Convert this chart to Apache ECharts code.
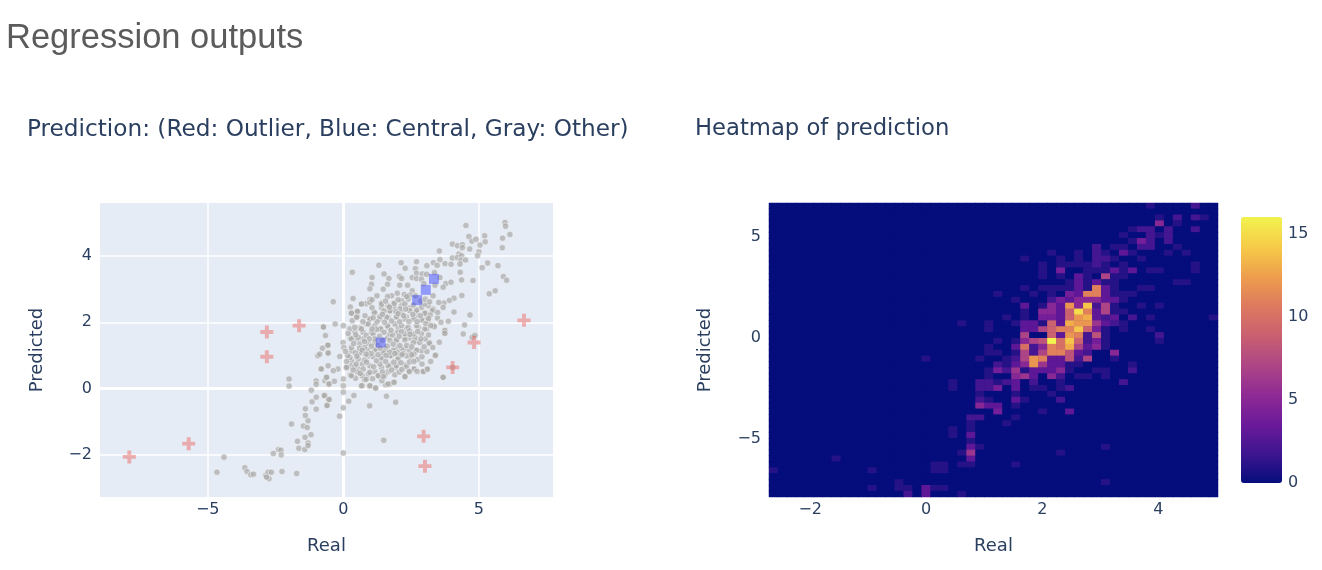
<!DOCTYPE html>
<html><head><meta charset="utf-8">
<style>html,body{margin:0;padding:0;background:#fff}#c{width:1322px;height:570px}</style>
<script src="https://cdn.jsdelivr.net/npm/echarts@6/dist/echarts.min.js"></script>
</head><body><div id="c"></div>
<script>
const outlierPoints = [[-7.89,-2.06],[-5.70,-1.66],[-2.82,0.96],[-2.82,1.71],[-1.63,1.90],[4.03,0.64],[2.96,-1.44],[3.01,-2.34],[6.66,2.06],[4.82,1.39]];
const centralPoints = [[3.34,3.31],[3.04,2.98],[2.72,2.67],[1.38,1.39]];
const otherPoints = [
[4.52,4.92],[5.96,5.01],[5.98,4.90],[6.14,4.65],[5.87,4.54],[5.21,4.61],[4.63,4.59],[4.74,4.45],[4.89,4.51],[5.23,4.43],[5.04,4.33],[4.02,4.36],[4.21,4.31],[4.39,4.34],[4.39,4.25],[4.66,4.21],[5.86,4.25],[3.54,4.15],[5.00,4.13],[4.95,4.01],[4.26,4.06],[4.02,3.94],[4.20,3.95],[4.36,4.01],[4.34,3.88],[4.51,3.88],[3.56,3.89],[2.70,3.83],[3.75,3.77],[3.97,3.75],[4.30,3.76],[3.32,3.80],[3.46,3.72],[3.08,3.71],[1.31,3.72],[2.13,3.80],[2.28,3.63],[5.12,3.65],[5.32,3.79],[5.70,3.71],[0.33,3.51],[1.50,3.46],[2.66,3.62],[2.70,3.48],[2.91,3.46],[3.07,3.45],[3.36,3.50],[4.31,3.51],[1.06,3.35],[1.68,3.32],[2.07,3.38],[2.54,3.35],[2.70,3.32],[2.88,3.30],[3.56,3.35],[4.36,3.28],[4.78,3.26],[5.90,3.38],[6.02,3.27],[2.15,3.32],[1.04,3.15],[1.63,3.15],[2.08,3.12],[2.37,3.12],[2.97,3.17],[3.38,3.12],[3.78,3.17],[3.97,3.21],[0.98,3.01],[1.47,3.00],[2.54,2.95],[3.68,3.06],[1.99,2.88],[2.25,2.84],[1.78,2.80],[1.63,2.78],[3.31,2.80],[2.45,2.82],[1.24,2.80],[0.98,2.69],[0.36,2.72],[-0.37,2.62],[5.38,2.86],[5.60,2.95],[4.37,2.81],[4.08,2.73],[3.91,2.66],[3.71,2.58],[3.68,2.45],[0.67,2.56],[0.83,2.56],[1.41,2.58],[1.86,2.58],[2.15,2.65],[2.39,2.70],[1.65,2.50],[0.26,2.46],[2.15,2.50],[3.13,2.50],[0.30,2.30],[0.51,2.33],[1.41,2.45],[1.86,2.45],[2.88,2.45],[3.31,2.40],[2.45,2.43],[4.08,2.31],[1.72,2.33],[2.15,2.30],[1.16,2.30],[2.70,2.30],[3.04,2.28],[4.67,2.22],[0.51,2.18],
[4.47,1.92],[4.42,1.65],[3.75,1.75],[3.75,1.67],[4.75,1.55],[4.85,1.60],[3.87,2.03],[3.35,1.90],[3.17,1.39],[3.07,1.80],[2.70,1.44],[2.43,1.53],[1.96,1.46],[-0.74,1.86],[-0.30,1.95],[0,1.90],[-0.56,1.31],[-0.01,1.39],[0.26,1.52],[0.42,1.72],[0.61,1.83],[0.33,2.05],[0.86,1.95],[0.98,2.10],[1.35,2.10],[1.65,2.15],[1.96,2.15],[2.33,2.15],[2.64,2.15],[2.95,2.08],[3.31,1.90],[0.73,1.70],[1.04,1.70],[1.35,1.80],[1.65,1.85],[2.02,1.85],[2.33,1.80],[2.76,1.85],[0.49,1.50],[0.73,1.50],[1.16,1.39],[1.65,1.54],[2.27,1.54],[2.64,1.54],
[-2.0,0.29],[-2.0,0.08],[-4.40,-2.07],[-4.66,-2.52],[-3.63,-2.39],[-3.55,-2.50],[-3.41,-2.60],[-3.31,-2.58],[-2.86,-2.62],[-2.77,-2.52],[-2.65,-2.52],[-2.74,-2.72],[-2.83,-2.67],[-2.26,-2.50],[-1.72,-2.56],[-2.58,-1.96],[-2.39,-1.84],[-2.30,-1.86],[-2.29,-2.0],[-1.64,-1.80],[-1.42,-1.84],[-1.69,-1.59],[-1.30,-1.64],[-1.30,-1.72],[-1.41,-1.47],[-1.19,-1.39],[-1.47,-1.13],[-1.33,-1.17],[-1.91,-1.07],[-1.30,-0.97],[-1.40,-0.81],[-1.40,-0.61],[-1.0,-0.62],[-1.15,-0.40],[-1.0,-0.26],[-1.18,-0.05],[-0.69,-0.21],[-0.60,-0.51],[-0.55,-0.33],[-1.0,0.23],[-1.0,0.13],[-0.68,0.24],[-0.61,0.34],[-0.55,0.14],[-0.83,0.60],[-0.56,0.69],[-0.94,0.99],[-0.87,1.04],[-0.56,1.09],[-0.77,1.22],[-0.73,1.86],[-0.66,1.60],[-0.57,1.31],
[4.03,0.64],[3.38,0.99],[3.68,0.34],[3.09,0.57],[2.95,0.51],[2.61,0.59],[2.43,0.51],[2.28,0.37],[1.92,0.64],[1.86,0.19],[1.72,0.14],[1.56,0.12],[1.42,0.24],[1.19,0],[0.97,0.07],[0.70,0.09],[0.78,0.27],[0.45,0.31],[1.59,-0.23],[1.93,-0.41],[0.97,-0.52],[0.39,-0.21],[0.20,-0.38],[0,-0.58],[-0.14,-0.83],[1.49,-1.56],[0,-1.94],[0,-0.11],[0,0.09],[0,0.29],[-0.52,0.14],[-0.33,0.22],[-0.70,-0.21],[-0.52,-0.33],[-0.60,-0.51],[-0.62,0.34],[-0.20,0.59],[-0.37,0.54],[-0.13,0.97],[-0.81,0.59],[-0.56,1.07],[0.30,0.84],[0.30,0.69],[0.12,0.64],[0.26,0.41],[0.55,0.59],[0.71,0.74],[0.92,0.44],[1.16,0.51],[1.29,0.39],[1.41,0.64],[1.65,0.51],[1.72,0.71],[2.02,0.87],[2.27,0.71],[2.48,0.94],[2.70,1.14],[2.88,1.14],[2.27,1.20],[1.78,1.00],[1.41,0.94],[0.92,0.99],[0.61,1.09],[0.30,1.14],[0.02,1.24],[1.16,1.14],[1.53,1.20],[1.96,1.20],
[0.67,2.55],[0.98,2.60],[1.41,2.55],[1.88,2.57],[2.27,2.55],[3.0,2.55],[0.30,2.27],[0.52,2.33],[1.14,2.30],[1.35,2.17],[1.72,2.35],[2.08,2.40],[2.45,2.35],[2.70,2.37],[3.0,2.27],[3.28,2.35],[0.49,2.15],[0.98,2.10],[1.59,2.15],[1.96,2.17],[2.27,2.10],[2.58,2.10],[2.88,2.07],[3.13,2.05],[3.47,2.13],[0.24,1.80],[0.42,1.85],[0.67,1.80],[0.92,1.95],[1.16,1.90],[1.38,1.80],[1.63,1.90],[1.90,1.95],[2.15,1.90],[2.39,1.85],[2.70,1.90],[3.0,1.80],[3.35,1.87],[3.74,1.75],[3.74,1.67],[0.30,1.50],[0.55,1.55],[0.85,1.60],[1.10,1.65],[1.72,1.65],[2.0,1.70],[2.27,1.65],[2.58,1.65],[2.88,1.65],[0.30,1.24],[0.61,1.35],[0.92,1.35],[1.16,1.50],[1.72,1.45],[1.96,1.47],[2.27,1.47],[2.58,1.39],[2.82,1.39],[3.17,1.37],[0.61,1.09],[0.89,1.16],[1.19,1.19],[1.53,1.14],[1.84,1.16],[2.15,1.19],[2.45,1.14],[2.70,1.16],[3.40,1.01],[0.24,0.94],[0.55,0.89],[0.79,0.86],[1.10,0.96],[1.41,0.92],[1.72,0.99],[2.02,0.92],[2.33,0.99],[0.12,0.64],[0.42,0.66],[0.73,0.59],[0.98,0.69],[1.35,0.74],[1.65,0.69],[1.96,0.69],[2.33,0.66],[2.61,0.59],[2.95,0.52],[3.10,0.59],[3.68,0.34],[0.30,0.39],[0.70,0.39],[0.98,0.49],[1.29,0.39],[1.53,0.42],[1.90,0.42],[2.43,0.52],[2.27,0.36],[0.67,0.09],[0.98,0.09],[1.19,0.02],[1.65,0.14],[1.87,0.19],
[0.44,1.08],[0.78,1.24],[1.02,1.06],[1.28,1.30],[1.46,1.08],[1.62,1.28],[1.84,1.34],[2.08,1.30],[2.34,1.30],[2.52,1.26],[0.48,0.74],[0.86,0.80],[1.22,0.84],[1.56,0.82],[1.86,0.80],[2.12,0.78],[2.44,0.80],[2.74,0.88],[0.60,1.22],[0.96,1.50],[1.34,1.58],[1.50,1.70],[1.82,1.62],[2.14,1.72],[2.44,1.74],[2.74,1.72],[3.02,1.50],[1.22,1.78],[1.52,2.00],[1.78,2.04],[2.08,2.02],[2.42,2.02],[2.72,2.02],[3.04,1.96],[1.24,2.02],[0.80,2.20],[1.06,2.44],[1.50,2.34],[1.94,2.32],[2.30,2.40],[2.58,2.52],[2.86,2.64],[3.20,2.22],[0.16,1.00],[0.12,0.82],[0.52,0.50],[0.84,0.28],[1.08,0.30],[1.44,0.50],[2.06,0.50],[2.60,0.82],[2.90,0.74],
[0.38,1.36],[0.70,1.16],[1.04,1.28],[1.36,1.22],[1.70,1.10],[2.00,1.08],[2.20,1.06],[2.60,1.04],[2.90,0.96],[3.08,1.12],[0.50,0.98],[0.84,1.04],[1.28,1.02],[1.58,1.00],[1.90,1.06],[2.16,1.02],[2.52,1.02],[0.36,0.56],[0.62,0.46],[1.12,0.66],[1.48,0.36],[1.78,0.56],[2.16,0.58],[0.46,1.62],[0.78,1.42],[1.06,1.80],[1.44,1.46],[1.76,1.76],[2.06,1.58],[2.46,1.64],[2.86,1.50],[3.14,1.62],[3.22,1.90],[0.72,2.02],[1.10,2.14],[1.44,2.24],[1.70,2.46],[2.02,2.26],[2.22,2.20],[2.56,2.24],[2.84,2.20],[3.14,2.12],[0.18,1.66],[0.08,1.12],[1.06,2.68],[1.56,2.64],[2.02,2.68],[2.34,2.78],[2.66,2.80],[3.02,2.70],[3.18,2.62],[3.52,2.60],[3.48,2.30],[3.60,2.00],[3.54,1.40],[3.30,1.24],[2.98,1.26],[3.22,0.82],[2.72,0.52]
];
const heatRows = [
[42,1,47,2],[],[43,1,45,2,47,2,48,1],[43,5,45,1],[40,1,41,2,42,2,44,2,47,2],
[39,1,42,2,43,1,44,2],[40,1,41,4,42,2,44,2],[36,2,38,1,39,1,41,2,42,2,45,1],[31,1,34,1,36,2,37,1,39,3,40,1,44,1,46,1],[28,1,32,1,34,1,36,2,37,2,38,1,41,1],
[30,1,32,1,33,1,34,1,35,1,36,2,37,1,39,1,47,1],[30,1,32,4,35,1,36,1,37,1,38,3,39,1,40,3,42,1,43,1,47,1],[30,1,32,1,34,3,35,1,37,7,38,1,39,1],[33,1,34,3,35,1,36,3,37,1,38,1,45,1,46,1],[28,1,30,1,31,1,32,1,33,1,34,3,35,1,36,11,37,3,38,1,41,1,42,1],
[25,1,29,1,31,1,33,4,34,3,35,11,36,11,37,3,38,1,39,1,40,1],[27,1,31,2,32,4,33,3,34,5,35,5,36,5,37,3,38,3,39,1],[28,3,30,1,31,5,32,3,33,12,34,5,35,14,36,2,37,7,38,1,41,1,43,1],[28,1,30,5,31,5,32,3,33,9,34,15,35,11,36,3,37,7,38,1,39,1],[26,1,28,1,30,4,31,4,32,3,33,9,34,12,35,13,36,3,37,2,38,3,40,2,42,1,49,1],
[21,1,24,1,27,1,28,3,29,3,30,1,31,9,32,3,33,13,34,12,35,12,36,6,37,3,38,2,39,1],[24,1,28,3,29,3,30,7,31,9,32,11,33,11,34,14,35,9,36,4,37,1,39,1,42,1],[28,7,31,9,32,3,33,12,34,11,35,2,36,8,37,1,43,2],[25,1,27,1,28,5,29,7,30,8,31,16,32,10,33,14,34,9,35,2,36,4,37,1,43,1],[24,1,27,3,28,10,29,2,30,5,31,11,32,10,33,13,34,7,35,3,36,5,37,1],
[24,1,25,1,27,1,28,7,29,2,30,7,31,11,32,11,33,8,34,3,35,2,38,5],[17,1,23,1,26,1,27,2,28,7,29,12,30,11,31,3,32,3,33,8,34,2,35,7,38,1],[25,2,26,1,27,3,28,5,29,12,30,6,31,3,32,3,33,1,34,1,40,1],[24,1,25,4,26,2,27,6,28,1,29,3,30,3,31,3,32,5,33,1,36,1,37,1,40,2],[24,1,27,5,28,6,29,3,31,5,32,2,34,1,35,1,37,1],
[20,1,23,2,24,2,25,1,26,2,27,3,29,2,32,1,39,2],[20,1,23,2,24,2,25,4,27,3,29,1,30,1,32,1,33,2],[23,1,27,1,31,1],[23,2,24,1,27,3,28,1,32,2],[23,5,24,3,25,3,27,1],
[25,4,30,1,33,3],[22,2,23,2,27,1],[22,1,26,1],[20,1,22,1],[20,1,22,3],
[22,1],[22,3,23,1,37,1],[21,1,22,6,32,1],[7,1,22,3],[18,1,19,1,21,1,22,1,27,1],
[0,1,11,1,18,1,19,1],[],[14,1,37,1],[11,1,14,1,15,1,17,3,18,1,19,1],[15,2,17,3,21,1]
];
const binCount = 50;
const leftXTicks = [-5,0,5];
const leftYTicks = [-2,0,2,4];
const rightXTicks = [-2,0,2,4];
const rightYTicks = [-5,0,5];
const colorbarTicks = [0,5,10,15];
const plasma = ['#050d7c','#3e1590','#6c1a9a','#8f2b94','#ae4685','#c96070','#dd7a5e','#ee9f4c','#f6cc48','#f1f34e'];

const ink = '#2a3f5f', sans = '"DejaVu Sans"';
const fmt = v => String(v).replace('-', '\u2212');
const labels = (vals, margin) => ({color: ink, fontFamily: sans, fontSize: 16, customValues: vals, formatter: fmt, margin});
const nameStyle = {color: ink, fontFamily: sans, fontSize: 18};

const bins = Array.from({length: binCount}, (_, i) => String(i));
const heatData = [];
const lookup = {};
heatRows.forEach((row, r) => { for (let i = 0; i < row.length; i += 2) lookup[row[i] + '_' + r] = row[i + 1]; });
for (let r = 0; r < binCount; r++) for (let c = 0; c < binCount; c++) heatData.push([c, r, lookup[c + '_' + r] || 0]);

const whiteLine = {lineStyle: {color: '#fff', width: 1.5}};
const chart = echarts.init(document.getElementById('c'), null, {renderer: 'canvas'});
chart.setOption({
  animation: false,
  backgroundColor: '#fff',
  title: [
    {text: 'Regression outputs', left: 6, top: 21, padding: 0, textStyle: {fontFamily: '"Liberation Sans"', fontSize: 34.5, fontWeight: 'normal', color: '#5b5b5b'}},
    {text: 'Prediction: (Red: Outlier, Blue: Central, Gray: Other)', left: 27, top: 118, padding: 0, textStyle: {fontFamily: sans, fontSize: 23.2, fontWeight: 'normal', color: ink}},
    {text: 'Heatmap of prediction', left: 695, top: 118, padding: 0, textStyle: {fontFamily: sans, fontSize: 22.7, fontWeight: 'normal', color: ink}}
  ],
  grid: [
    {left: 100, top: 203, width: 453, height: 294, show: true, backgroundColor: '#e5ecf6', borderWidth: 0},
    {left: 769, top: 203, width: 449, height: 294, show: true, backgroundColor: plasma[0], borderWidth: 0},
    {left: 1241, top: 217, width: 41, height: 266, show: false}
  ],
  xAxis: [
    {type: 'value', gridIndex: 0, min: -8.97, max: 7.73, name: 'Real', nameLocation: 'middle', nameGap: 40, nameTextStyle: nameStyle,
     axisLine: {show: true, onZero: true, lineStyle: {color: '#fff', width: 3}}, axisTick: {show: false, customValues: leftXTicks},
     axisLabel: labels(leftXTicks, 5), splitLine: {show: true, ...whiteLine}},
    {type: 'category', gridIndex: 1, data: bins, show: false},
    {type: 'value', gridIndex: 1, position: 'bottom', min: -2.71, max: 5.03, name: 'Real', nameLocation: 'middle', nameGap: 40, nameTextStyle: nameStyle,
     axisLine: {show: false}, axisTick: {show: false, customValues: rightXTicks}, axisLabel: labels(rightXTicks, 5), splitLine: {show: false}},
    {type: 'value', gridIndex: 2, min: 0, max: 1, show: false}
  ],
  yAxis: [
    {type: 'value', gridIndex: 0, min: -3.27, max: 5.60, name: 'Predicted', nameLocation: 'middle', nameGap: 54, nameTextStyle: nameStyle,
     axisLine: {show: true, onZero: true, lineStyle: {color: '#fff', width: 3}}, axisTick: {show: false, customValues: leftYTicks},
     axisLabel: labels(leftYTicks, 8), splitLine: {show: true, ...whiteLine}},
    {type: 'category', gridIndex: 1, data: bins, inverse: true, show: false},
    {type: 'value', gridIndex: 1, position: 'left', min: -7.87, max: 6.68, name: 'Predicted', nameLocation: 'middle', nameGap: 55, nameTextStyle: nameStyle,
     axisLine: {show: false}, axisTick: {show: false, customValues: rightYTicks}, axisLabel: labels(rightYTicks, 8), splitLine: {show: false}},
    {type: 'value', gridIndex: 2, min: 0, max: 16, position: 'right',
     axisLine: {show: false}, axisTick: {show: false, customValues: colorbarTicks}, axisLabel: labels(colorbarTicks, 6), splitLine: {show: false}}
  ],
  visualMap: {
    type: 'continuous', seriesIndex: 3, min: 0, max: 16, calculable: false, realtime: false, hoverLink: false,
    orient: 'vertical', left: 1241, top: 217, itemWidth: 41, itemHeight: 266, text: ['', ''], showLabel: false,
    inRange: {color: plasma}, padding: 0, textGap: 0, borderWidth: 0
  },
  series: [
    {type: 'scatter', name: 'Other', xAxisIndex: 0, yAxisIndex: 0, data: otherPoints, symbol: 'circle', symbolSize: 6.5, z: 3,
     itemStyle: {color: 'rgba(170,170,170,0.88)', borderColor: 'rgba(255,255,255,0.65)', borderWidth: 1}, silent: true},
    {type: 'scatter', name: 'Central', xAxisIndex: 0, yAxisIndex: 0, data: centralPoints, symbol: 'rect', symbolSize: 10, z: 4,
     itemStyle: {color: 'rgba(55,65,250,0.6)'}, silent: true},
    {type: 'scatter', name: 'Outlier', xAxisIndex: 0, yAxisIndex: 0, data: outlierPoints, z: 5,
     symbol: 'path://M4.2,0h3.6v4.2h4.2v3.6H7.8v4.2H4.2V7.8H0V4.2h4.2z', symbolSize: 13,
     itemStyle: {color: 'rgba(235,95,90,0.58)'}, silent: true},
    {type: 'heatmap', xAxisIndex: 1, yAxisIndex: 1, data: heatData, progressive: 0, silent: true}
  ]
});
</script></body></html>
